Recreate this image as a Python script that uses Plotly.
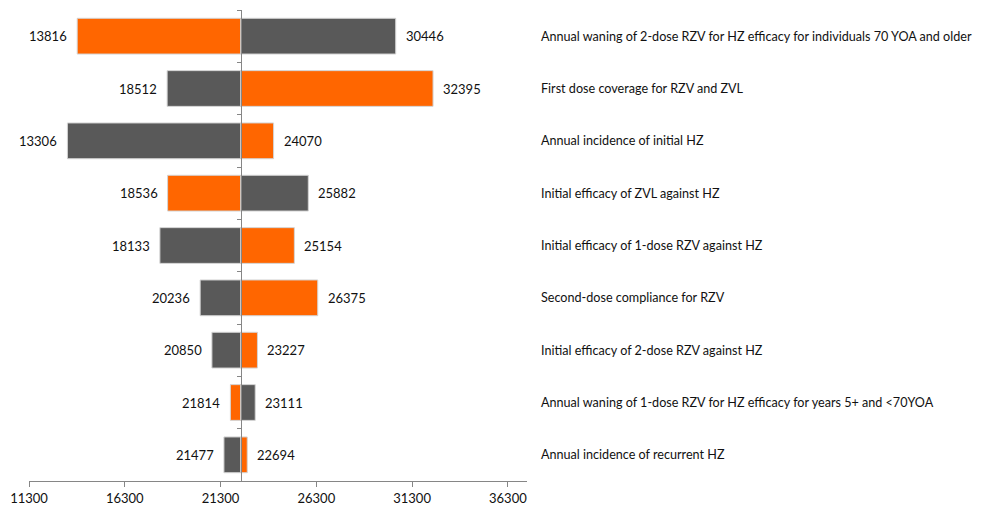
import plotly.graph_objects as go

categories = [
    "Annual waning of 2-dose RZV for HZ efficacy for individuals 70 YOA and older",
    "First dose coverage for RZV and ZVL",
    "Annual incidence of initial HZ",
    "Initial efficacy of ZVL against HZ",
    "Initial efficacy of 1-dose RZV against HZ",
    "Second-dose compliance for RZV",
    "Initial efficacy of 2-dose RZV against HZ",
    "Annual waning of 1-dose RZV for HZ efficacy for years 5+ and <70YOA",
    "Annual incidence of recurrent HZ",
]
low_values = [13816, 18512, 13306, 18536, 18133, 20236, 20850, 21814, 21477]
high_values = [30446, 32395, 24070, 25882, 25154, 26375, 23227, 23111, 22694]
base_value = 22360
ORANGE = "#FF6600"
GRAY = "#595959"
low_colors = [ORANGE, GRAY, GRAY, ORANGE, GRAY, GRAY, GRAY, ORANGE, GRAY]
high_colors = [GRAY, ORANGE, ORANGE, GRAY, ORANGE, ORANGE, ORANGE, GRAY, ORANGE]
tick_values = [11300, 16300, 21300, 26300, 31300, 36300]
x_min, x_max = 11300, 37300

FONT = "Lato"
FS = 13
FS_CAT = 12.6

fig = go.Figure()
fig.add_trace(go.Bar(
    y=categories, x=[v - base_value for v in low_values], base=base_value,
    orientation="h", marker=dict(color=low_colors, line=dict(color="#d4d4d4", width=1)),
    hoverinfo="skip", showlegend=False))
fig.add_trace(go.Bar(
    y=categories, x=[v - base_value for v in high_values], base=base_value,
    orientation="h", marker=dict(color=high_colors, line=dict(color="#d4d4d4", width=1)),
    hoverinfo="skip", showlegend=False))

annotations = []
for c, lo, hi in zip(categories, low_values, high_values):
    annotations.append(dict(x=lo, y=c, xref="x", yref="y", text=str(lo), showarrow=False,
                            xanchor="right", xshift=-8, font=dict(family=FONT, size=FS, color="#111")))
    annotations.append(dict(x=hi, y=c, xref="x", yref="y", text=str(hi), showarrow=False,
                            xanchor="left", xshift=8, font=dict(family=FONT, size=FS, color="#111")))
    annotations.append(dict(x=1, y=c, xref="paper", yref="y", text=c, showarrow=False,
                            xanchor="left", xshift=12, font=dict(family=FONT, size=FS_CAT, color="#111")))

fig.update_layout(
    width=985, height=503,
    margin=dict(l=18, r=466, t=2, b=30),
    paper_bgcolor="white", plot_bgcolor="white",
    barmode="overlay", bargap=0.317,
    annotations=annotations,
    font=dict(family=FONT, size=FS, color="#111"),
    xaxis=dict(range=[x_min, x_max], tickvals=tick_values, ticktext=[str(t) for t in tick_values],
               showgrid=False, zeroline=False, showline=True, linecolor="#868686", linewidth=1,
               ticks="outside", ticklen=5, tickcolor="#868686", ticklabeloverflow="allow",
               tickfont=dict(family=FONT, size=FS, color="#111")),
    yaxis=dict(autorange="reversed", anchor="free",
               position=(base_value - x_min) / (x_max - x_min),
               showticklabels=False, showgrid=False, zeroline=False,
               showline=True, linecolor="#868686", linewidth=1,
               ticks="outside", ticklen=4, tickcolor="#868686", tickson="boundaries"),
)

fig.write_html("out.html")
